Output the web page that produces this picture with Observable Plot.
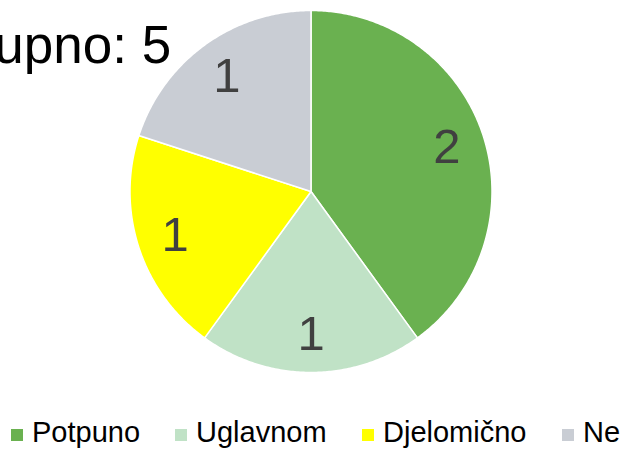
<!DOCTYPE html>
<html>
<head>
<meta charset="utf-8">
<script src="https://cdn.jsdelivr.net/npm/d3@7"></script>
<script src="https://cdn.jsdelivr.net/npm/@observablehq/plot@0.6"></script>
<style>
  html, body { margin: 0; padding: 0; background: #fff; overflow: hidden; }
  #wrap { position: relative; width: 622px; height: 450px; overflow: hidden; font-family: "Liberation Sans", Arial, sans-serif; }
  #chart { height: 400px; }
  #chart svg { display: block; }
  #legend { position: relative; width: 622px; height: 50px; }
  .item { position: absolute; top: 0; height: 50px; white-space: nowrap; }
  .sw { position: absolute; top: 29px; left: 0; width: 12px; height: 12px; }
  .lb { position: absolute; left: 21px; top: 17.5px; font-size: 29px; line-height: 29px; color: #000; }
</style>
</head>
<body>
<div id="wrap">
  <div id="chart"></div>
  <div id="legend"></div>
</div>
<script>
const categories = ["Potpuno", "Uglavnom", "Djelomično", "Ne"];
const values = [2, 1, 1, 1];
const colors = ["#6ab150", "#c0e2c6", "#ffff00", "#c9cdd4"];
const title = "Ukupno: 5";

const W = 622, H = 400;
const R = 181, CX = 310.5, CY = 191;

const data = categories.map((c, i) => ({category: c, value: values[i]}));
const arcs = d3.pie().sort(null).value(d => d.value)(data);

// polygon points for each slice (unit circle, angle clockwise from top)
const polys = [];
arcs.forEach(a => {
  polys.push({category: a.data.category, x: 0, y: 0});
  const n = Math.max(2, Math.ceil((a.endAngle - a.startAngle) / 0.01));
  for (let k = 0; k <= n; k++) {
    const t = a.startAngle + (a.endAngle - a.startAngle) * k / n;
    polys.push({category: a.data.category, x: Math.sin(t), y: Math.cos(t)});
  }
});

const labelR = 0.79;
const labels = arcs.map(a => {
  const m = (a.startAngle + a.endAngle) / 2;
  return {text: String(a.data.value), x: labelR * Math.sin(m), y: labelR * Math.cos(m)};
});

const chart = Plot.plot({
  width: W,
  height: H,
  margin: 0,
  style: {fontFamily: "'Liberation Sans', Arial, sans-serif", background: "#fff", overflow: "hidden"},
  x: {domain: [-CX / R, (W - CX) / R], range: [0, W], axis: null},
  y: {domain: [-(H - CY) / R, CY / R], range: [H, 0], axis: null},
  color: {domain: categories, range: colors},
  marks: [
    Plot.line(polys, {x: "x", y: "y", z: "category", fill: "category", stroke: "#fff", strokeWidth: 1.5, curve: "linear-closed"}),
    Plot.text(labels, {x: "x", y: "y", text: "text", fontSize: 49, fill: "#404040", textAnchor: "middle", lineAnchor: "middle"}),
    Plot.text([title], {frameAnchor: "top-left", dx: -71, dy: 62, text: d => d, textAnchor: "start", lineAnchor: "bottom", fontSize: 53, fill: "#000"})
  ]
});
document.getElementById("chart").appendChild(chart);

const lefts = [11, 175, 362, 562];
const legend = document.getElementById("legend");
categories.forEach((c, i) => {
  const it = document.createElement("div");
  it.className = "item";
  it.style.left = lefts[i] + "px";
  it.innerHTML = `<span class="sw" style="background:${colors[i]}"></span><span class="lb">${c}</span>`;
  legend.appendChild(it);
});
</script>
</body>
</html>
